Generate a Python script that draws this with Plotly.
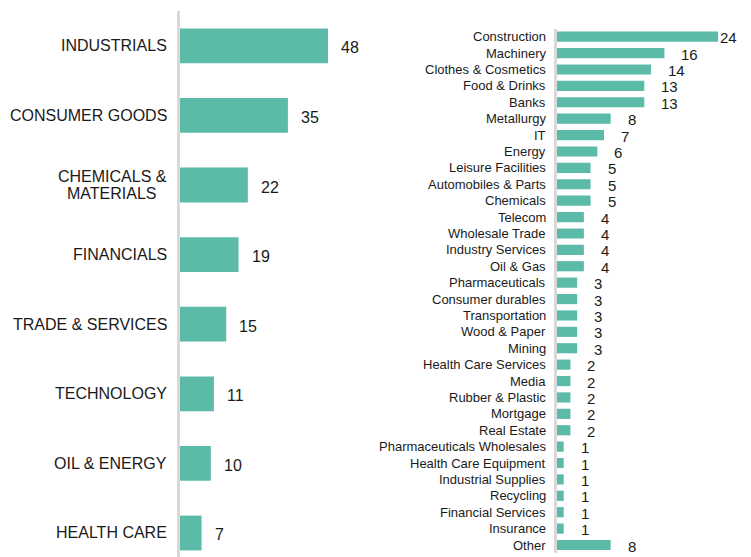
import plotly.graph_objects as go

# Left panel: sectors
sectors = ["INDUSTRIALS", "CONSUMER GOODS", "CHEMICALS &<br>MATERIALS", "FINANCIALS",
           "TRADE & SERVICES", "TECHNOLOGY", "OIL & ENERGY", "HEALTH CARE"]
sector_counts = [48, 35, 22, 19, 15, 11, 10, 7]

# Right panel: industries
industries = ["Construction", "Machinery", "Clothes & Cosmetics", "Food & Drinks", "Banks",
              "Metallurgy", "IT", "Energy", "Leisure Facilities", "Automobiles & Parts",
              "Chemicals", "Telecom", "Wholesale Trade", "Industry Services", "Oil & Gas",
              "Pharmaceuticals", "Consumer durables", "Transportation", "Wood & Paper", "Mining",
              "Health Care Services", "Media", "Rubber & Plastic", "Mortgage", "Real Estate",
              "Pharmaceuticals Wholesales", "Health Care Equipment", "Industrial Supplies",
              "Recycling", "Financial Services", "Insurance", "Other"]
industry_counts = [24, 16, 14, 13, 13, 8, 7, 6, 5, 5, 5, 4, 4, 4, 4, 3, 3, 3, 3, 3,
                   2, 2, 2, 2, 2, 1, 1, 1, 1, 1, 1, 8]

BAR = "#5cbaa9"
FONT = "Liberation Sans, Arial, sans-serif"
TXT = "#1a1a1a"
OFF = 8  # page body margin
W, H = 751 - OFF, 557 - OFF


def px(v):
    return (v - OFF) / W


def py(v):
    return 1 - (v - OFF) / H


fig = go.Figure()
fig.add_trace(go.Bar(x=sector_counts, y=sectors, orientation="h", marker_color=BAR,
                     marker_line_width=0, width=0.5, xaxis="x", yaxis="y",
                     hoverinfo="skip", showlegend=False))
fig.add_trace(go.Bar(x=industry_counts, y=industries, orientation="h", marker_color=BAR,
                     marker_line_width=0, width=0.62, xaxis="x2", yaxis="y2",
                     hoverinfo="skip", showlegend=False))

annotations = []
for s, v in zip(sectors, sector_counts):
    lines = s.split("<br>")
    n = len(lines)
    for i, ln in enumerate(lines):
        multi = n > 1
        annotations.append(dict(x=0, y=s, xref="x", yref="y", text=ln, showarrow=False,
                                xanchor=("center" if multi else "right"), yanchor="middle",
                                xshift=(-68 if multi else -11),
                                yshift=((n - 1) / 2 - i) * 17,
                                font=dict(family=FONT, size=16, color=TXT)))
    annotations.append(dict(x=v, y=s, xref="x", yref="y", text=str(v), showarrow=False,
                            xanchor="left", yanchor="middle", xshift=11, yshift=-2,
                            font=dict(family=FONT, size=16, color=TXT)))
vmax = max(industry_counts)
for s, v in zip(industries, industry_counts):
    annotations.append(dict(x=0, y=s, xref="x2", yref="y2", text=s, showarrow=False,
                            xanchor="right", yanchor="middle", xshift=-9,
                            font=dict(family=FONT, size=13, color=TXT)))
    annotations.append(dict(x=v, y=s, xref="x2", yref="y2", text=str(v), showarrow=False,
                            xanchor="left", yanchor="middle",
                            xshift=(0 if v == vmax else 15), yshift=-1,
                            font=dict(family=FONT, size=15, color=TXT)))

fig.update_layout(
    width=W, height=H, margin=dict(l=0, r=0, t=0, b=0),
    paper_bgcolor="white", plot_bgcolor="white",
    annotations=annotations, bargap=0.5,
    xaxis=dict(domain=[px(180), px(365)], range=[0, 60], visible=False, fixedrange=True),
    yaxis=dict(domain=[0, py(11)], range=[7.345, -0.5], type="category",
               showticklabels=False, ticks="", showgrid=False, zeroline=False,
               showline=True, linecolor="#d9d9d9", linewidth=3, anchor="x"),
    xaxis2=dict(domain=[px(557), px(745)], range=[0, 28], visible=False, fixedrange=True,
                anchor="y2"),
    yaxis2=dict(domain=[py(553.2), py(28.5)], range=[31.5, -0.5], type="category",
                showticklabels=False, ticks="", showgrid=False, zeroline=False,
                showline=True, linecolor="#d9d9d9", linewidth=3, anchor="x2"),
)

fig.write_html("out.html")
